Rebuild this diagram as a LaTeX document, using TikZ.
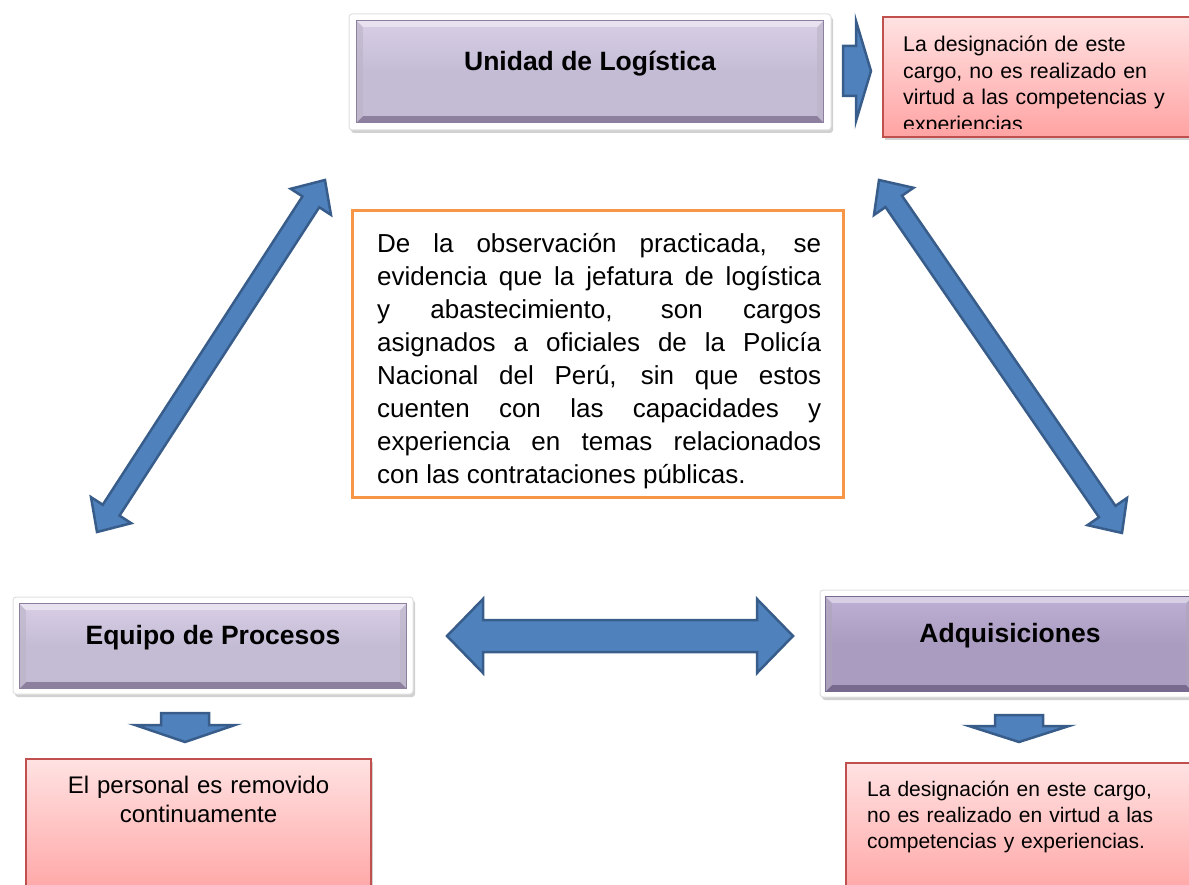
\documentclass[tikz,border=0pt]{standalone}
\usepackage{fontspec}
\setmainfont{Liberation Sans}
\usetikzlibrary{calc,shadows}
\definecolor{blueF}{RGB}{79,129,189}
\definecolor{blueD}{RGB}{56,93,138}
\definecolor{orangeB}{RGB}{247,150,70}
\definecolor{redB}{RGB}{192,80,77}
\definecolor{pinkT}{RGB}{255,226,226}
\definecolor{pinkB}{RGB}{255,163,163}
\definecolor{lavT}{RGB}{216,207,230}
\definecolor{lav}{RGB}{196,187,213}
\definecolor{lavD}{RGB}{140,128,158}
\definecolor{purT}{RGB}{190,176,212}
\definecolor{pur}{RGB}{170,155,192}
\definecolor{purD}{RGB}{120,106,142}
\newcommand\dblarr[5]{%
  \draw[barrow] let \p1=($(#2)-(#1)$), \n1={atan2(\y1,\x1)}, \n2={veclen(\x1,\y1)} in
    [shift={(#1)}, rotate=\n1] (0,0) -- (#5,#4) -- (#5,#3) -- (\n2-#5,#3) -- (\n2-#5,#4)
    -- (\n2,0) -- (\n2-#5,-#4) -- (\n2-#5,-#3) -- (#5,-#3) -- (#5,-#4) -- cycle;}
\newcommand\sglarr[5]{%
  \draw[barrow] let \p1=($(#2)-(#1)$), \n1={atan2(\y1,\x1)}, \n2={veclen(\x1,\y1)} in
    [shift={(#1)}, rotate=\n1] (0,#3) -- (\n2-#5,#3) -- (\n2-#5,#4)
    -- (\n2,0) -- (\n2-#5,-#4) -- (\n2-#5,-#3) -- (0,-#3) -- cycle;}
\newcommand\bevel[3]{%
  \fill[#2] (#1.south west) -- (#1.south east) -- ($(#1.south east)+(-6,-6)$) -- ($(#1.south west)+(6,-6)$) -- cycle;
  \fill[#2!60!white, opacity=0.6] (#1.south west) -- (#1.north west) -- ($(#1.north west)+(6,6)$) -- ($(#1.south west)+(6,-6)$) -- cycle;
  \fill[#2!60!white, opacity=0.6] (#1.south east) -- (#1.north east) -- ($(#1.north east)+(-6,6)$) -- ($(#1.south east)+(-6,-6)$) -- cycle;
  \fill[#3] (#1.north west) -- (#1.north east) -- ($(#1.north east)+(-6,6)$) -- ($(#1.north west)+(6,6)$) -- cycle;
  \draw[#2, line width=0.8pt] (#1.south west) rectangle (#1.north east);}
\begin{document}
\begin{tikzpicture}[x=1pt,y=-1pt,
  barrow/.style={fill=blueF, draw=blueD, line width=2.5pt, line join=miter},
  frame/.style={fill=white, draw=black!12, line width=1pt, rounded corners=3pt, inner sep=0pt,
    drop shadow={shadow xshift=2pt, shadow yshift=-3pt, opacity=0.3, fill=black!60}},
  titlebox/.style={inner sep=0pt, top color=lavT, bottom color=lav, middle color=lav},
  titlebox2/.style={inner sep=0pt, top color=purT, bottom color=pur, middle color=pur},
  titletext/.style={inner sep=0pt, font=\bfseries\fontsize{26.5}{30}\selectfont},
  redbox/.style={inner sep=0pt, draw=redB, line width=1.2pt, top color=pinkT, bottom color=pinkB,
    drop shadow={shadow xshift=2pt, shadow yshift=-3pt, opacity=0.3, fill=black!60}},
  centerbox/.style={inner sep=0pt, draw=orangeB, line width=3pt, fill=white}]
\useasboundingbox (0,0) rectangle (1189,885);

% Unidad de Logística
\node[frame, minimum width=482pt, minimum height=116pt] (ulf) at (590,72) {};
\node[titlebox, minimum width=466pt, minimum height=101pt] (ul) at (590,71.5) {};
\bevel{ul}{lavD}{lavT!60!white}
\node[titletext] (ult) at (590,64) {Unidad de Logística};

% Equipo de Procesos
\node[frame, minimum width=400pt, minimum height=97pt] (epf) at (213,645.5) {};
\node[titlebox, minimum width=386pt, minimum height=84pt] (ep) at (213,646) {};
\bevel{ep}{lavD}{lavT!60!white}
\node[titletext] (ept) at (213,638) {Equipo de Procesos};

% Adquisiciones
\node[frame, minimum width=380pt, minimum height=107pt] (adf) at (1010,643.5) {};
\node[titlebox2, minimum width=366pt, minimum height=94pt] (ad) at (1009,644) {};
\bevel{ad}{purD}{purT!60!white}
\node[titletext] (adt) at (1010,636) {Adquisiciones};

% Center box
\node[centerbox, minimum width=491pt, minimum height=286pt] (cb) at (597.5,354) {};
\node[inner sep=0pt, text width=444pt, anchor=base west, align=justify, font=\fontsize{26}{32.86}\selectfont] (cbt) at (377,253) {%
\parindent=0pt\parfillskip=0pt\hbadness=10000
De la observación practicada, se\par
evidencia que la jefatura de logística\par
y abastecimiento, son cargos\par
asignados a oficiales de la Policía\par
Nacional del Perú, sin que estos\par
cuenten con las capacidades y\par
experiencia en temas relacionados\par
\parfillskip=0pt plus 1fil
con las contrataciones públicas.};

% Red boxes
\node[redbox, minimum width=316pt, minimum height=120pt] (r1) at (1041,77) {};
\begin{scope}
\clip (890,20) rectangle (1185,129);
\node[inner sep=0pt, text width=290pt, anchor=base west, align=left, font=\fontsize{21.3}{26.5}\selectfont] (r1t) at (903,52) {La designación de este\\ cargo, no es realizado en\\ virtud a las competencias y\\ experiencias};
\end{scope}

\node[redbox, minimum width=345pt, minimum height=140pt] (r2) at (198.5,829) {};
\node[inner sep=0pt, text width=330pt, anchor=base, align=center, font=\fontsize{24}{29}\selectfont] (r2t) at (198.5,793) {El personal es removido\\ continuamente};

\node[redbox, minimum width=350pt, minimum height=136pt] (r3) at (1021,831) {};
\node[inner sep=0pt, text width=320pt, anchor=base west, align=left, font=\fontsize{21}{26}\selectfont] (r3t) at (867,796) {La designación en este cargo,\\ no es realizado en virtud a las\\ competencias y experiencias.};

% Arrow end points
\coordinate (a1s) at (97,532);
\coordinate (a1e) at (325,180);
\coordinate (a2s) at (879,180);
\coordinate (a2e) at (1122,533);
\coordinate (a3s) at (447,636);
\coordinate (a3e) at (793,636);
\coordinate (a4s) at (843,71);
\coordinate (a4e) at (871,71);
\coordinate (a5s) at (185,713);
\coordinate (a5e) at (185,742);
\coordinate (a6s) at (1019,715);
\coordinate (a6e) at (1019,742);

\dblarr{a1s}{a1e}{10}{24}{26}
\dblarr{a2s}{a2e}{10}{24}{26}
\dblarr{a3s}{a3e}{16}{37}{36}
\sglarr{a4s}{a4e}{25}{50}{15}
\sglarr{a5s}{a5e}{24}{50}{17}
\sglarr{a6s}{a6e}{24}{50}{16}
\end{tikzpicture}
\end{document}
